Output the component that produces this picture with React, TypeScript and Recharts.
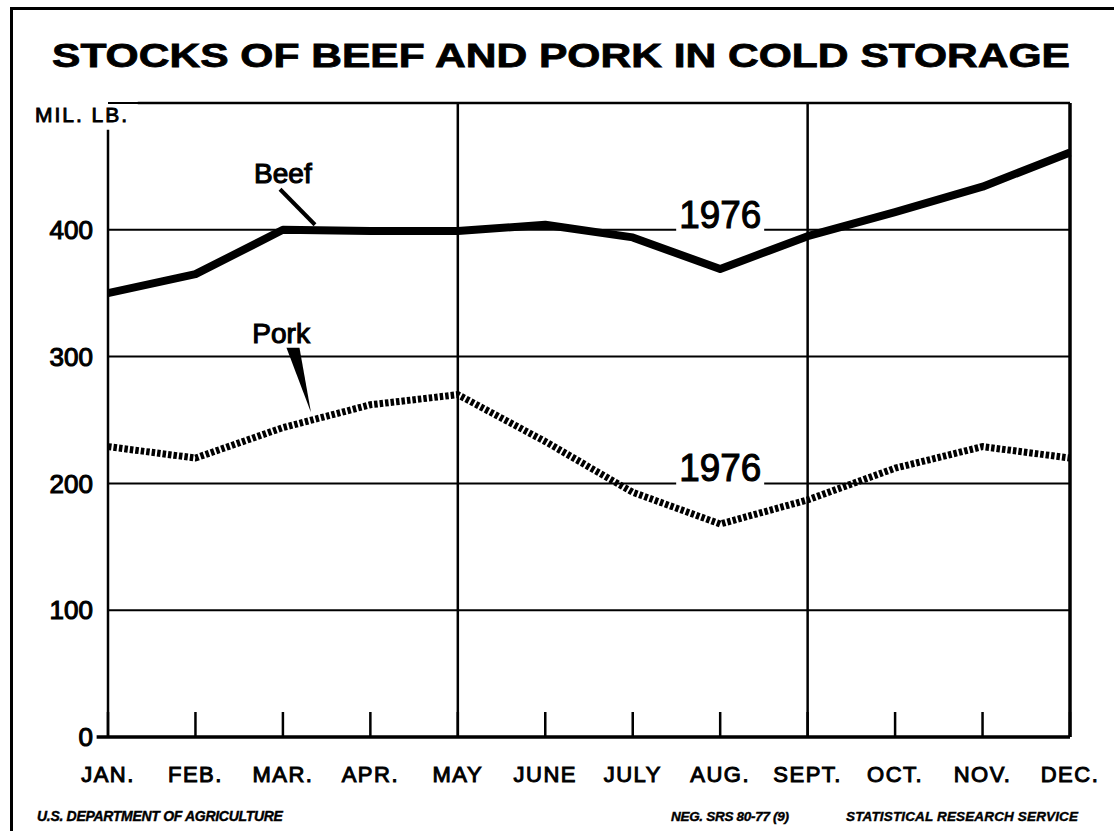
import React from 'react';
import {
    CartesianGrid,
    Line,
    LineChart,
    ReferenceDot,
    ReferenceLine,
    XAxis,
    YAxis,
} from 'recharts';

const FONT = '"Liberation Sans", Arial, Helvetica, sans-serif';

// monthly stocks, million pounds, 1976
const months = ['JAN.', 'FEB.', 'MAR.', 'APR.', 'MAY', 'JUNE', 'JULY', 'AUG.', 'SEPT.', 'OCT.', 'NOV.', 'DEC.'];
const beef = [350, 365, 400, 399, 399, 404, 394, 369, 395, 414, 434, 461];
const pork = [229, 220, 244, 262, 270, 233, 193, 168, 187, 212, 229, 220];
const yTicks = [0, 100, 200, 300, 400];
const monthIndex = months.map((_, i) => i);

const data = months.map((_, i) => ({m: i, beef: beef[i], pork: pork[i]}));

const MonthTick = (props: any) => {
    const {x, y, payload} = props;
    return (
        <g>
            <line x1={x} x2={x} y1={y} y2={y - 25} stroke="#000" strokeWidth={2.5}/>
            <text
                x={x}
                y={y + 45}
                textAnchor="middle"
                fontSize={22}
                letterSpacing={1.5}
                fill="#000"
                stroke="#000"
                strokeWidth={1}
                fontFamily={FONT}
            >
                {months[payload.value]}
            </text>
        </g>
    );
};

const YearLabel = (props: any) => {
    const {cx, cy} = props;
    return (
        <g>
            <rect x={cx - 44} y={cy - 4} width={88} height={8} fill="#fff"/>
            <text
                x={cx}
                y={cy - 2}
                textAnchor="middle"
                fontSize={39}
                textLength={82}
                lengthAdjust="spacingAndGlyphs"
                fill="#000"
                stroke="#000"
                strokeWidth={1.1}
                fontFamily={FONT}
            >
                1976
            </text>
        </g>
    );
};

const nameLabel = (name: string) => (props: any) => (
    <text
        x={props.cx}
        y={props.cy}
        textAnchor="middle"
        fontSize={28}
        fill="#000"
        stroke="#000"
        strokeWidth={1.1}
        fontFamily={FONT}
    >
        {name}
    </text>
);

const Wedge = (props: any) => {
    const {x1, y1, x2, y2} = props;
    return <polygon points={`${x1 - 6.5},${y1} ${x1 + 6.5},${y1} ${x2},${y2}`} fill="#000"/>;
};

export default function App() {
    return (
        <div style={{position: 'absolute', left: 0, top: 0, width: 1114, height: 831, background: '#fff', overflow: 'hidden'}}>
            <div
                style={{
                    position: 'absolute',
                    left: 10,
                    top: 7,
                    width: 1114,
                    height: 831,
                    borderTop: '3px solid #000',
                    borderLeft: '3px solid #000',
                }}
            />
            <LineChart
                width={1114}
                height={831}
                data={data}
                margin={{top: 103, right: 44, bottom: 44, left: 48}}
                style={{position: 'absolute', left: 0, top: 0}}
            >
                <CartesianGrid vertical={false} stroke="#000" strokeWidth={2}/>
                <XAxis
                    dataKey="m"
                    type="number"
                    domain={[0, 11]}
                    ticks={monthIndex}
                    interval={0}
                    height={50}
                    axisLine={false}
                    tickLine={false}
                    tickSize={0}
                    tickMargin={0}
                    tick={<MonthTick/>}
                />
                <YAxis
                    domain={[0, 500]}
                    ticks={yTicks}
                    width={60}
                    axisLine={false}
                    tickLine={false}
                    tickSize={0}
                    tickMargin={15}
                    tick={{fontSize: 26, fill: '#000', stroke: '#000', strokeWidth: 1.1, fontFamily: FONT}}
                />
                <ReferenceLine x={4} stroke="#000" strokeWidth={2.5}/>
                <ReferenceLine x={8} stroke="#000" strokeWidth={2.5}/>
                <ReferenceLine x={11} stroke="#000" strokeWidth={3.5}/>
                <ReferenceLine segment={[{x: 0, y: 0}, {x: 0, y: 479}]} stroke="#000" strokeWidth={2.5}/>
                <ReferenceLine segment={[{x: 0.34, y: 500}, {x: 11, y: 500}]} stroke="#000" strokeWidth={2.5}/>
                <ReferenceLine
                    segment={[{x: -0.13, y: 0}, {x: 11, y: 0}]}
                    ifOverflow="visible"
                    stroke="#000"
                    strokeWidth={3.5}
                />
                <Line
                    dataKey="beef"
                    type="linear"
                    stroke="#000"
                    strokeWidth={8}
                    strokeLinejoin="round"
                    dot={false}
                    activeDot={false}
                    isAnimationActive={false}
                />
                <Line
                    dataKey="pork"
                    type="linear"
                    stroke="#000"
                    strokeWidth={7}
                    strokeDasharray="3.5 2"
                    dot={false}
                    activeDot={false}
                    isAnimationActive={false}
                />
                <ReferenceLine segment={[{x: 1.967, y: 432}, {x: 2.367, y: 404}]} stroke="#000" strokeWidth={4}/>
                <ReferenceLine segment={[{x: 2.115, y: 307}, {x: 2.321, y: 256}]} shape={Wedge}/>
                <ReferenceDot x={2} y={437} shape={nameLabel('Beef')}/>
                <ReferenceDot x={1.98} y={311} shape={nameLabel('Pork')}/>
                <ReferenceDot x={7} y={400} shape={YearLabel}/>
                <ReferenceDot x={7} y={200} shape={YearLabel}/>
            </LineChart>
            <svg width={1114} height={831} style={{position: 'absolute', left: 0, top: 0, pointerEvents: 'none'}}>
                <text
                    x={52}
                    y={67}
                    textLength={1018}
                    lengthAdjust="spacingAndGlyphs"
                    fontSize={33}
                    fontWeight="bold"
                    fontFamily={FONT}
                    fill="#000"
                    stroke="#000"
                    strokeWidth={0.8}
                >
                    STOCKS OF BEEF AND PORK IN COLD STORAGE
                </text>
                <text x={35} y={122} textLength={92} fontSize={21} fontFamily={FONT} fill="#000" stroke="#000" strokeWidth={0.9}>
                    MIL. LB.
                </text>
                <text x={37} y={821} fontSize={14} fontWeight="bold" fontStyle="italic" letterSpacing={-0.3} fontFamily={FONT} fill="#000" stroke="#000" strokeWidth={0.4}>
                    U.S. DEPARTMENT OF AGRICULTURE
                </text>
                <text x={671} y={821} fontSize={13.5} fontWeight="bold" fontStyle="italic" letterSpacing={-0.3} fontFamily={FONT} fill="#000" stroke="#000" strokeWidth={0.4}>
                    NEG. SRS 80-77 (9)
                </text>
                <text x={846} y={821} textLength={232} fontSize={13.5} fontWeight="bold" fontStyle="italic" fontFamily={FONT} fill="#000" stroke="#000" strokeWidth={0.4}>
                    STATISTICAL RESEARCH SERVICE
                </text>
            </svg>
        </div>
    );
}
